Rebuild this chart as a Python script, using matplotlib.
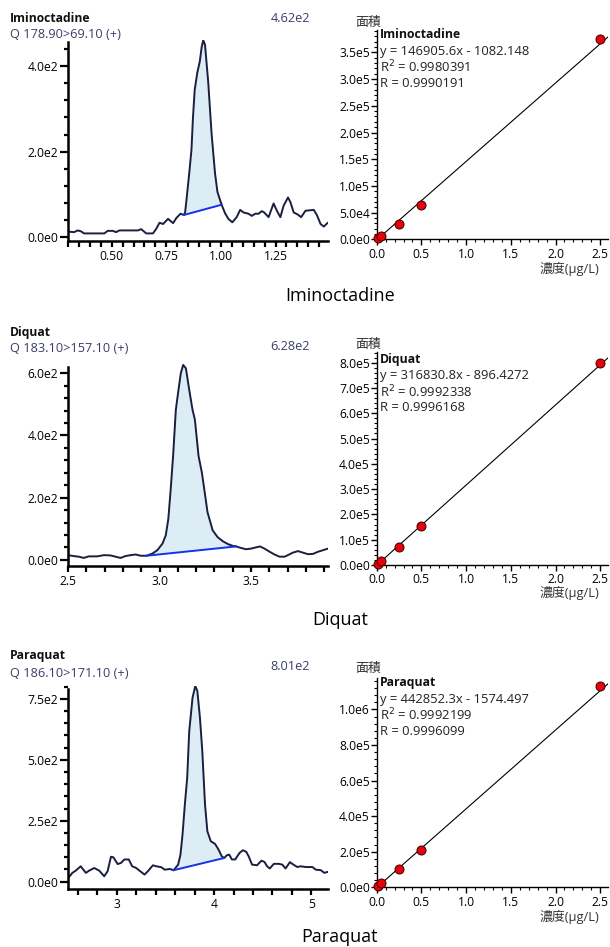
import numpy as np
import matplotlib
matplotlib.use("Agg")
import matplotlib.pyplot as plt
from matplotlib.ticker import MultipleLocator, FuncFormatter, FixedLocator

plt.rcParams['font.family'] = ['Open Sans', 'Noto Sans CJK JP', 'DejaVu Sans']

W, H = 610, 947

# ---- Iminoctadine chromatogram
imi_rt = [0.305, 0.328, 0.344, 0.359, 0.374, 0.466, 0.482, 0.505, 0.520, 0.535, 0.620, 0.635,
          0.658, 0.689, 0.704, 0.719, 0.735, 0.758, 0.781, 0.796, 0.815, 0.830,
          0.836, 0.842, 0.855, 0.865, 0.872, 0.880, 0.892, 0.903, 0.912, 0.919, 0.927,
          0.942, 0.957, 0.973, 0.984,
          1.003, 1.019, 1.034, 1.052, 1.072, 1.088, 1.103, 1.126, 1.141, 1.157, 1.172, 1.187,
          1.198, 1.218, 1.241, 1.256, 1.272, 1.287, 1.307, 1.318, 1.333, 1.352, 1.367, 1.387,
          1.425, 1.440, 1.456, 1.471, 1.487, 1.494]
imi_int = [13, 12, 16, 14, 9, 9, 15, 15, 12, 16, 16, 19,
           9, 9, 20, 34, 31, 43, 33, 45, 55, 52,
           58, 86, 150, 204, 280, 345, 385, 410, 445, 460, 450,
           361, 243, 149, 106,
           76, 56, 43, 35, 47, 64, 58, 55, 50, 55, 55, 61,
           58, 47, 79, 62, 47, 74, 93, 82, 58, 53, 47, 62,
           64, 51, 31, 25, 33, 35]
imi_base = ([0.830, 1.003], [52, 76])

# ---- Diquat chromatogram
diq_rt = [2.500, 2.531, 2.559, 2.586, 2.613, 2.659, 2.696, 2.732, 2.760, 2.787, 2.814, 2.842,
          2.869, 2.897, 2.928, 2.961, 2.988, 3.016, 3.034, 3.048, 3.061, 3.074, 3.089, 3.101,
          3.116, 3.129, 3.144, 3.162, 3.180, 3.193, 3.213, 3.231, 3.244, 3.262, 3.290, 3.317,
          3.345, 3.372, 3.399, 3.418, 3.445, 3.473, 3.500, 3.527, 3.549, 3.573, 3.601, 3.628,
          3.655, 3.683, 3.701, 3.728, 3.756, 3.783, 3.811, 3.838, 3.866, 3.893, 3.920]
diq_int = [15, 12, 10, 6, 11, 11, 15, 14, 10, 6, 12, 15,
           17, 13, 13, 20, 31, 52, 79, 132, 228, 334, 483, 536,
           600, 627, 616, 547, 483, 451, 334, 281, 228, 153, 95, 73,
           60, 51, 45, 43, 38, 34, 36, 40, 43, 36, 26, 17,
           10, 10, 15, 23, 28, 23, 18, 19, 26, 31, 36]
diq_base = ([2.928, 3.418], [13, 43])

# ---- Paraquat chromatogram
par_rt = [2.503, 2.545, 2.579, 2.631, 2.683, 2.717, 2.769, 2.821, 2.872, 2.907, 2.941, 2.966,
          3.010, 3.045, 3.079, 3.124, 3.159, 3.200, 3.234, 3.286, 3.321, 3.372, 3.407, 3.459,
          3.493, 3.545, 3.586, 3.631, 3.655, 3.676, 3.700, 3.724, 3.745, 3.779, 3.807, 3.828,
          3.855, 3.879, 3.907, 3.931, 3.966, 4.010, 4.045, 4.079, 4.103, 4.131, 4.155, 4.183,
          4.217, 4.262, 4.297, 4.331, 4.355, 4.390, 4.441, 4.486, 4.517, 4.545, 4.572, 4.614,
          4.666, 4.700, 4.734, 4.779, 4.814, 4.855, 4.890, 4.941, 5.010, 5.045, 5.097, 5.131,
          5.166, 5.183]
par_int = [15, 36, 45, 63, 36, 45, 56, 45, 22, 43, 102, 100,
           72, 77, 91, 91, 63, 56, 45, 29, 43, 67, 63, 59,
           49, 52, 47, 70, 111, 193, 317, 426, 618, 755, 803, 783,
           673, 536, 317, 207, 166, 155, 132, 104, 97, 108, 111, 91,
           91, 118, 129, 122, 104, 70, 67, 86, 81, 63, 54, 73,
           73, 70, 54, 80, 70, 60, 63, 60, 60, 49, 47, 36,
           40, 36]
par_base = ([3.586, 4.103], [47, 97])

# ---- calibration
conc = [0.02, 0.05, 0.25, 0.5, 2.5]
imi_area = [1500, 5500, 29500, 65000, 375000]
diq_area = [4000, 16000, 72000, 154000, 800000]
par_area = [6000, 22000, 103000, 210000, 1131000]

names = ["Iminoctadine", "Diquat", "Paraquat"]
mrm = ["Q 178.90>69.10 (+)", "Q 183.10>157.10 (+)", "Q 186.10>171.10 (+)"]
peak_max = ["4.62e2", "6.28e2", "8.01e2"]
fit_eq = ["y = 146905.6x - 1082.148", "y = 316830.8x - 896.4272", "y = 442852.3x - 1574.497"]
slope = [146905.6, 316830.8, 442852.3]
intercept = [-1082.148, -896.4272, -1574.497]
r2 = ["0.9980391", "0.9992338", "0.9992199"]
r = ["0.9990191", "0.9996168", "0.9996099"]

traces = [(imi_rt, imi_int, imi_base), (diq_rt, diq_int, diq_base), (par_rt, par_int, par_base)]
areas = [imi_area, diq_area, par_area]

# layout (pixels)
chrom_box = [(68, 39.5, 328, 240.7), (68, 364, 328, 565.7), (68, 686, 328, 888.7)]
chrom_xlim = [(0.30, 1.49), (2.5, 3.92), (2.5, 5.17)]
chrom_ylim = [(-8, 462), (-19, 630), (-29, 803)]
chrom_xmaj = [[0.50, 0.75, 1.00, 1.25], [2.5, 3.0, 3.5], [3, 4, 5]]
chrom_xmin = [0.05, 0.1, 0.2]
chrom_xfmt = ["%.2f", "%.1f", "%d"]
chrom_ymaj = [200, 200, 250]
chrom_ymin = [40, 40, 50]
header_y = [(18.5, 35, 18.3), (332.7, 348.3, 346.7), (656, 673.3, 666)]

cal_box = [(376.7, 30, 608.3, 239.3), (376.7, 352, 608.3, 565), (376.7, 678.3, 608.3, 887.3)]
cal_ylim = [3.92e5, 8.42e5, 1.175e6]
cal_ymaj = [5e4, 1e5, 2e5]
cal_ymin = [1e4, 2e4, 4e4]
cal_lab_y = [22, 344, 668.3]
cal_txt_y = [35, 359.3, 682.7]
cal_unit_y = [269.3, 593.3, 916.5]
title_y = [296, 620, 937]


def px(l, t, r_, b):
    return [l / W, 1 - b / H, (r_ - l) / W, (b - t) / H]


def sci(v, pos=None):
    if v == 0:
        return "0.0e0"
    e = int(np.floor(np.log10(abs(v)) + 1e-9))
    return "%.1fe%d" % (v / 10 ** e, e)


fig = plt.figure(figsize=(W / 100, H / 100), dpi=100)
line_col = "#1b1f3f"
txt_col = "#3b3f68"

for i in range(3):
    rt, inten, base = traces[i]
    rt = np.array(rt)
    inten = np.array(inten)
    ax = fig.add_axes(px(*chrom_box[i]))
    bl = np.interp(rt, base[0], base[1])
    m = (rt >= base[0][0]) & (rt <= base[0][1])
    ax.fill_between(rt[m], inten[m], bl[m], color="#dcedf6", lw=0)
    ax.plot(rt, inten, color=line_col, lw=1.4)
    ax.plot(base[0], base[1], color="#1432e6", lw=1.4)
    ax.set_xlim(*chrom_xlim[i])
    ax.set_ylim(*chrom_ylim[i])
    for s in ["top", "right"]:
        ax.spines[s].set_visible(False)
    for s in ["left", "bottom"]:
        ax.spines[s].set_linewidth(1.8)
    ax.spines["left"].set_bounds(chrom_ylim[i][0], chrom_ylim[i][1] * 0.985)
    ax.xaxis.set_major_locator(FixedLocator(chrom_xmaj[i]))
    ax.xaxis.set_minor_locator(MultipleLocator(chrom_xmin[i]))
    ax.xaxis.set_major_formatter(FuncFormatter(lambda v, p, f=chrom_xfmt[i]: f % v))
    ax.yaxis.set_major_locator(MultipleLocator(chrom_ymaj[i]))
    ax.yaxis.set_minor_locator(MultipleLocator(chrom_ymin[i]))
    ax.yaxis.set_major_formatter(FuncFormatter(sci))
    ax.tick_params(axis="y", which="major", length=6, width=1.6, labelsize=8.7, pad=1)
    ax.tick_params(axis="y", which="minor", length=3, width=1.6)
    ax.tick_params(axis="x", which="both", length=4, width=1.6, labelsize=8.7, pad=3)

    fig.text(10 / W, 1 - header_y[i][0] / H, names[i], fontsize=8.7, fontweight="bold",
             va="center", ha="left", color="#111111")
    fig.text(10 / W, 1 - header_y[i][1] / H, mrm[i], fontsize=9.2, va="center", ha="left",
             color=txt_col)
    fig.text(310 / W, 1 - header_y[i][2] / H, peak_max[i], fontsize=9.2, va="center", ha="right",
             color=txt_col)

    # calibration curve
    cx = fig.add_axes(px(*cal_box[i]))
    xs = np.array([0, 2.6])
    cx.plot(xs, slope[i] * xs + intercept[i], color="black", lw=0.8)
    cx.plot(conc, areas[i], "o", ms=6.5, mfc="#e8000b", mec="#3a0000", mew=0.7, clip_on=False,
            zorder=5)
    cx.set_xlim(0, 2.59)
    cx.set_ylim(0, cal_ylim[i])
    for s in ["top", "right"]:
        cx.spines[s].set_visible(False)
    for s in ["left", "bottom"]:
        cx.spines[s].set_linewidth(1.0)
    cx.xaxis.set_major_locator(MultipleLocator(0.5))
    cx.xaxis.set_minor_locator(MultipleLocator(0.1))
    cx.xaxis.set_major_formatter(FuncFormatter(lambda v, p: "%.1f" % v))
    cx.yaxis.set_major_locator(MultipleLocator(cal_ymaj[i]))
    cx.yaxis.set_minor_locator(MultipleLocator(cal_ymin[i]))
    cx.yaxis.set_major_formatter(FuncFormatter(sci))
    cx.tick_params(axis="both", which="major", length=4, width=1.0, labelsize=8.7, pad=1)
    cx.tick_params(axis="both", which="minor", length=2.5, width=0.8)
    cx.tick_params(axis="x", pad=2)

    fig.text(355 / W, 1 - cal_lab_y[i] / H, "面積", fontsize=9.3, va="center", ha="left",
             color="#333333")
    fig.text(599 / W, 1 - cal_unit_y[i] / H, "濃度(μg/L)", fontsize=9.3, va="center", ha="right",
             color="#333333")
    ty = cal_txt_y[i]
    fig.text(380 / W, 1 - ty / H, names[i], fontsize=8.8, fontweight="bold", va="center",
             ha="left", color="#111111")
    fig.text(380 / W, 1 - (ty + 16.5) / H, fit_eq[i], fontsize=9.4, va="center", ha="left",
             color="#222222")
    fig.text(380 / W, 1 - (ty + 32.5) / H, "R$^2$ = " + r2[i], fontsize=9.4, va="center",
             ha="left", color="#222222")
    fig.text(380 / W, 1 - (ty + 48.5) / H, "R = " + r[i], fontsize=9.4, va="center", ha="left",
             color="#222222")

    fig.text(340 / W, 1 - title_y[i] / H, names[i], fontsize=13, va="center", ha="center",
             color="black")

fig.savefig("out.png", dpi=100)
